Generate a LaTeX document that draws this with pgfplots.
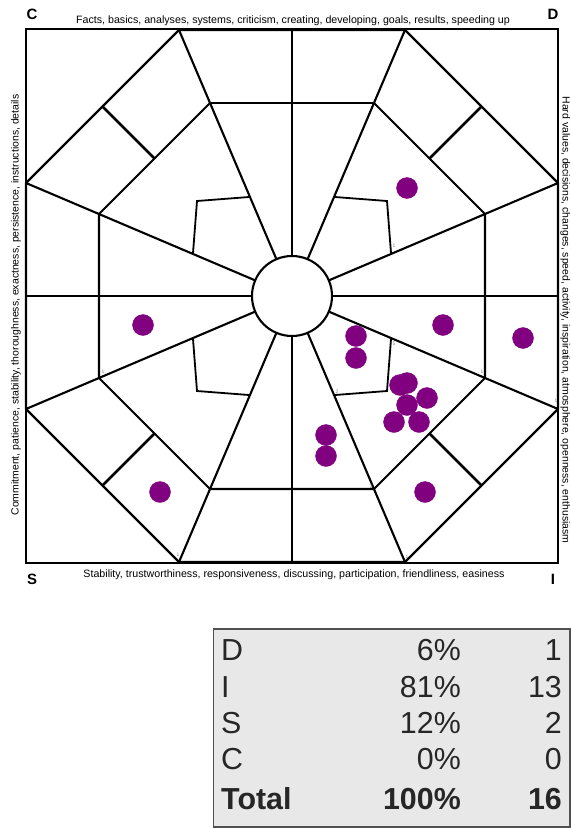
\documentclass[border=0pt]{standalone}
\usepackage{pgfplots}
\pgfplotsset{compat=1.18}
\usepackage{fontspec}
\setmainfont{Liberation Sans}
\definecolor{dotpurple}{HTML}{800080}
\definecolor{tablegray}{HTML}{E8E8E8}
\definecolor{tableborder}{HTML}{505050}
\begin{document}
\begin{tikzpicture}[x=1bp,y=1bp]
\path[use as bounding box] (0,0) rectangle (571,-828);
\begin{axis}[
  anchor=south west, at={(26,-563)},
  x=1bp, y=1bp, xmin=-266, xmax=266, ymin=-267, ymax=267,
  hide axis, clip=false, scale only axis]
% frame
\draw[line width=2.3bp] (-266,-267) rectangle (266,267);
% outer octagon
\draw[line width=2.2bp, line join=miter] (113,266) -- (266,113) -- (266,-113) -- (113,-266) -- (-113,-266) -- (-266,-113) -- (-266,113) -- (-113,266) -- cycle;
% axes through centre
\draw[line width=2.1bp] (40,0) -- (266,0);
\draw[line width=2.1bp] (-40,0) -- (-266,0);
\draw[line width=2.1bp] (0,40) -- (0,267);
\draw[line width=2.1bp] (0,-40) -- (0,-267);
% spokes
\draw[line width=2.1bp] (15.6,36.8) -- (113,266);
\draw[line width=2.1bp] (36.8,15.6) -- (266,113);
\draw[line width=2.1bp] (36.8,-15.6) -- (266,-113);
\draw[line width=2.1bp] (15.6,-36.8) -- (113,-266);
\draw[line width=2.1bp] (-15.6,-36.8) -- (-113,-266);
\draw[line width=2.1bp] (-36.8,-15.6) -- (-266,-113);
\draw[line width=2.1bp] (-36.8,15.6) -- (-266,113);
\draw[line width=2.1bp] (-15.6,36.8) -- (-113,266);
% inner octagon
\draw[line width=1.1bp] (-82,193) -- (82,193);
\draw[line width=2.1bp, line join=miter] (82,193) -- (193,82) -- (193,-82) -- (82,-193) -- (-82,-193) -- (-193,-82) -- (-193,82) -- (-82,193);
% diagonal ticks
\draw[line width=2.5bp] (137.5,137.5) -- (189.5,189.5);
\draw[line width=2.5bp] (137.5,-137.5) -- (189.5,-189.5);
\draw[line width=2.5bp] (-137.5,-137.5) -- (-189.5,-189.5);
\draw[line width=2.5bp] (-137.5,137.5) -- (-189.5,189.5);
% inner corners
\draw[line width=1.8bp] (43,99) -- (95,95) -- (99,43);
\draw[line width=1.8bp] (43,-99) -- (95,-95) -- (99,-43);
\draw[line width=1.8bp] (-43,-99) -- (-95,-95) -- (-99,-43);
\draw[line width=1.8bp] (-43,99) -- (-95,95) -- (-99,43);
% centre circle
\draw[line width=2.1bp, fill=white] (0,0) circle[radius=40];
% small scale numbers
\begin{scope}[every node/.style={font=\fontsize{5}{5}\selectfont, text=gray, inner sep=0pt}]
\node at (102,50) {1};
\node at (102,-48) {5};
\node at (45,-96) {2};
\node at (190,-76) {1};
\node at (264,-105) {1};
\node at (79,-191) {2};
\node at (115,-261) {1};
\node at (-189,-76) {1};
\node at (-114,-259) {1};
\end{scope}
% respondents
\addplot[only marks, mark=*, mark size=10.5bp, color=dotpurple] coordinates {
(115,108)
(151,-29) (231,-42) (64,-40) (64,-62)
(108,-89) (115,-87) (135,-102) (115,-109) (102,-126) (127,-126)
(34,-139) (34,-160) (133,-196)
(-149,-29) (-132,-196)
};
\end{axis}
% corner letters
\node[font=\bfseries\fontsize{15}{15}\selectfont] at (32,-14) {C};
\node[font=\bfseries\fontsize{15}{15}\selectfont] at (553,-14) {D};
\node[font=\bfseries\fontsize{15}{15}\selectfont] at (32,-579) {S};
\node[font=\bfseries\fontsize{15}{15}\selectfont] at (553,-579) {I};
% side labels
\node[font=\fontsize{10.7}{10.7}\selectfont, anchor=base, inner sep=0pt] at (293,-23) {Facts, basics, analyses, systems, criticism, creating, developing, goals, results, speeding up};
\node[font=\fontsize{10.7}{10.7}\selectfont, anchor=base, inner sep=0pt] at (294,-577) {Stability, trustworthiness, responsiveness, discussing, participation, friendliness, easiness};
\node[font=\fontsize{10.5}{10.5}\selectfont, anchor=base, inner sep=0pt, rotate=90] at (18.5,-305) {Commitment, patience, stability, thoroughness, exactness, persistence, instructions, details};
\node[font=\fontsize{10.5}{10.5}\selectfont, anchor=base, inner sep=0pt, rotate=-90] at (562.5,-320) {Hard values, decisions, changes, speed, activity, inspiration, atmosphere, openness, enthusiasm};
% summary table
\draw[draw=tableborder, fill=tablegray, line width=1.2bp] (213.5,-629) rectangle (570,-827);
\begin{scope}[every node/.style={font=\fontsize{30.5}{30.5}\selectfont, inner sep=0pt, text=black!85}]
\node[anchor=base west] at (221,-660) {D};
\node[anchor=base east] at (461,-660) {6\%};
\node[anchor=base east] at (562,-660) {1};
\node[anchor=base west] at (221,-697) {I};
\node[anchor=base east] at (461,-697) {81\%};
\node[anchor=base east] at (562,-697) {13};
\node[anchor=base west] at (221,-733) {S};
\node[anchor=base east] at (461,-733) {12\%};
\node[anchor=base east] at (562,-733) {2};
\node[anchor=base west] at (221,-769) {C};
\node[anchor=base east] at (461,-769) {0\%};
\node[anchor=base east] at (562,-769) {0};
\node[anchor=base west, font=\bfseries\fontsize{30.5}{30.5}\selectfont] at (221,-809) {Total};
\node[anchor=base east, font=\bfseries\fontsize{30.5}{30.5}\selectfont] at (461,-809) {100\%};
\node[anchor=base east, font=\bfseries\fontsize{30.5}{30.5}\selectfont] at (562,-809) {16};
\end{scope}
\end{tikzpicture}
\end{document}
